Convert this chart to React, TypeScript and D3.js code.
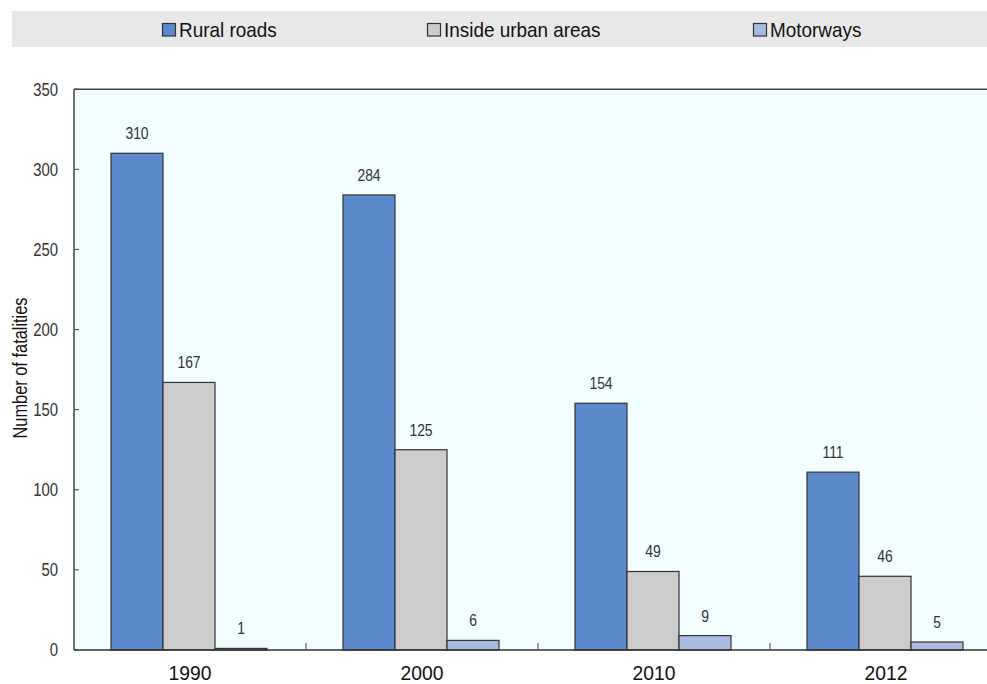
import React from "react";
import * as d3 from "d3";

const years = ["1990", "2000", "2010", "2012"];
const seriesNames = ["Rural roads", "Inside urban areas", "Motorways"];
const rural = [310, 284, 154, 111];
const urban = [167, 125, 49, 46];
const motorways = [1, 6, 9, 5];
const yTicks = [0, 50, 100, 150, 200, 250, 300, 350];
const colors = ["#5A8ACB", "#CCCCCC", "#A9BAE3"];

const font = "'Liberation Sans', Arial, sans-serif";

function CText(props: { x: number; y: number; sx: number; size: number; anchor?: string; fill?: string; children: any }) {
  return (
    <text
      transform={`translate(${props.x},${props.y}) scale(${props.sx},1)`}
      textAnchor={props.anchor || "start"}
      fontFamily={font}
      fontSize={props.size}
      fill={props.fill || "#111"}
    >
      {props.children}
    </text>
  );
}

export default function App() {
  const W = 987, H = 684;
  const left = 74, top = 89.2, bottom = 650, right = 1002;
  const x = d3.scaleBand<string>().domain(years).range([left, right]);
  const inner = d3.scaleBand<number>().domain([0, 1, 2]).range([37, 37 + 156]);
  const y = d3.scaleLinear().domain([0, 350]).range([bottom, top]);
  const series = [rural, urban, motorways];
  const legendX = [162, 427, 753];

  return (
    <svg width={W} height={H} style={{ position: "absolute", left: 0, top: 0 }}>
      <rect x={0} y={0} width={W} height={H} fill="#fff" />
      {/* legend */}
      <rect x={12} y={11} width={W - 12} height={36} fill="#E8E8E8" />
      {seriesNames.map((n, i) => (
        <g key={n}>
          <rect x={legendX[i] + 0.5} y={23.5} width={13} height={12.5} fill={colors[i]} stroke="#333" strokeWidth={1.2} />
          <CText x={legendX[i] + 17} y={37.2} sx={0.97} size={19.5}>{n}</CText>
        </g>
      ))}
      {/* plot area */}
      <rect x={left} y={top} width={right - left} height={bottom - top} fill="#F2FEFF" />
      {yTicks.slice(1, -1).map((t) => (
        <line key={t} x1={left} x2={right} y1={y(t)} y2={y(t)} stroke="#ffffff" strokeWidth={1} />
      ))}
      {/* bars */}
      {years.map((yr, gi) =>
        series.map((s, si) => {
          const bx = (x(yr) as number) + (inner(si) as number);
          const bw = inner.bandwidth();
          const v = s[gi];
          return (
            <g key={yr + si}>
              <rect x={bx} y={y(v)} width={bw} height={bottom - y(v)} fill={colors[si]} stroke="#333" strokeWidth={1.2} />
              <CText x={bx + bw / 2} y={y(v) - 14} sx={0.87} size={16} anchor="middle" fill="#333">{v}</CText>
            </g>
          );
        })
      )}
      {/* axes */}
      <line x1={left} x2={right} y1={top} y2={top} stroke="#444" strokeWidth={1.5} />
      <line x1={left} x2={left} y1={top} y2={bottom} stroke="#444" strokeWidth={1.5} />
      <line x1={left} x2={right} y1={bottom} y2={bottom} stroke="#333" strokeWidth={1.5} />
      {yTicks.map((t) => (
        <g key={t}>
          <line x1={left} x2={left + 5} y1={y(t)} y2={y(t)} stroke="#444" strokeWidth={1} />
          <CText x={58} y={y(t) + 6.3} sx={0.85} size={17.5} anchor="end" fill="#333">{t}</CText>
        </g>
      ))}
      {years.slice(1).map((yr) => (
        <line key={yr} x1={x(yr) as number} x2={x(yr) as number} y1={bottom} y2={bottom - 7} stroke="#444" strokeWidth={1} />
      ))}
      {years.map((yr) => (
        <CText key={yr} x={(x(yr) as number) + x.bandwidth() / 2} y={679.5} sx={0.92} size={21} anchor="middle">{yr}</CText>
      ))}
      <text
        transform={`translate(27, 368) rotate(-90) scale(0.82,1)`}
        textAnchor="middle"
        fontFamily={font}
        fontSize={20}
        fill="#111"
      >
        Number of fatalities
      </text>
    </svg>
  );
}
